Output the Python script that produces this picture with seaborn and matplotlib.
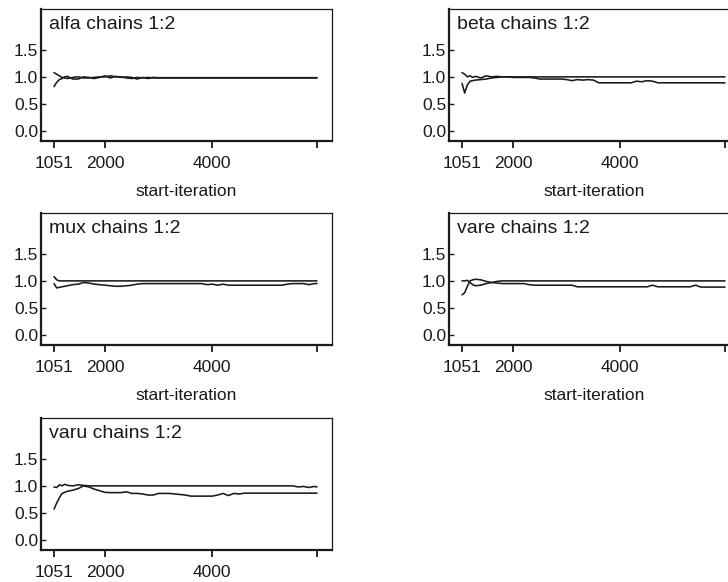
import matplotlib
matplotlib.use("Agg")
import matplotlib.pyplot as plt
import seaborn as sns
import pandas as pd

# start iterations at which the diagnostic was evaluated
iterations = [1051, 1100, 1150, 1200, 1250, 1300, 1400, 1500, 1600, 1700,
              1800, 1900, 2000, 2100, 2200, 2300, 2400, 2500, 2600, 2700,
              2800, 2900, 3000, 3100, 3200, 3300, 3400, 3500, 3600, 3700,
              3800, 3900, 4000, 4100, 4200, 4300, 4400, 4500, 4600, 4700,
              4800, 4900, 5000, 5100, 5200, 5300, 5400, 5500, 5600, 5700,
              5800, 5900, 5950]

alfa_upper = [1.08, 1.05, 1.02, 0.99, 0.98, 0.97, 0.99, 1.00, 0.98, 0.98,
              0.99, 1.00, 1.00, 1.02, 1.00, 1.00, 0.98, 0.97, 0.99, 0.98,
              0.99, 0.98, 0.98, 0.98, 0.98, 0.98, 0.98, 0.98, 0.98, 0.98,
              0.98, 0.98, 0.98, 0.98, 0.98, 0.98, 0.98, 0.98, 0.98, 0.98,
              0.98, 0.98, 0.98, 0.98, 0.98, 0.98, 0.98, 0.98, 0.98, 0.98,
              0.98, 0.98, 0.98]
alfa_lower = [0.82, 0.90, 0.95, 0.97, 1.00, 1.01, 0.96, 0.96, 1.00, 0.99,
              0.97, 0.99, 1.02, 0.98, 1.01, 0.99, 1.00, 0.99, 0.96, 0.99,
              0.97, 0.99, 0.985, 0.985, 0.985, 0.985, 0.985, 0.985, 0.985, 0.985,
              0.985, 0.985, 0.985, 0.985, 0.985, 0.985, 0.985, 0.985, 0.985, 0.985,
              0.985, 0.985, 0.985, 0.985, 0.985, 0.985, 0.985, 0.985, 0.985, 0.985,
              0.985, 0.985, 0.985]

beta_upper = [1.08, 1.05, 1.00, 1.02, 0.99, 1.01, 0.98, 1.02, 1.00, 1.01,
              1.00, 1.00, 1.00, 1.00, 1.00, 1.00, 1.00, 1.00, 1.00, 1.00,
              1.00, 1.00, 1.00, 1.00, 1.00, 1.00, 1.00, 1.00, 1.00, 1.00,
              1.00, 1.00, 1.00, 1.00, 1.00, 1.00, 1.00, 1.00, 1.00, 1.00,
              1.00, 1.00, 1.00, 1.00, 1.00, 1.00, 1.00, 1.00, 1.00, 1.00,
              1.00, 1.00, 1.00]
beta_lower = [0.88, 0.70, 0.85, 0.92, 0.93, 0.94, 0.95, 0.96, 0.98, 0.99,
              1.00, 1.00, 0.99, 0.99, 0.99, 0.99, 0.98, 0.96, 0.96, 0.96,
              0.96, 0.96, 0.95, 0.93, 0.95, 0.94, 0.95, 0.94, 0.89, 0.89,
              0.89, 0.89, 0.89, 0.89, 0.89, 0.92, 0.91, 0.93, 0.92, 0.89,
              0.89, 0.89, 0.89, 0.89, 0.89, 0.89, 0.89, 0.89, 0.89, 0.89,
              0.89, 0.89, 0.89]

mux_upper = [1.08, 1.02, 1.00, 1.00, 1.00, 1.00, 1.00, 1.00, 1.00, 1.00,
             1.00, 1.00, 1.00, 1.00, 1.00, 1.00, 1.00, 1.00, 1.00, 1.00,
             1.00, 1.00, 1.00, 1.00, 1.00, 1.00, 1.00, 1.00, 1.00, 1.00,
             1.00, 1.00, 1.00, 1.00, 1.00, 1.00, 1.00, 1.00, 1.00, 1.00,
             1.00, 1.00, 1.00, 1.00, 1.00, 1.00, 1.00, 1.00, 1.00, 1.00,
             1.00, 1.00, 1.00]
mux_lower = [0.95, 0.87, 0.88, 0.89, 0.90, 0.91, 0.93, 0.94, 0.97, 0.96,
             0.94, 0.93, 0.92, 0.91, 0.90, 0.90, 0.91, 0.92, 0.94, 0.95,
             0.95, 0.95, 0.95, 0.95, 0.95, 0.95, 0.95, 0.95, 0.95, 0.95,
             0.95, 0.93, 0.94, 0.92, 0.94, 0.92, 0.92, 0.92, 0.92, 0.92,
             0.92, 0.92, 0.92, 0.92, 0.92, 0.92, 0.94, 0.95, 0.95, 0.95,
             0.93, 0.95, 0.95]

vare_upper = [1.00, 1.00, 1.01, 0.97, 0.93, 0.91, 0.92, 0.95, 0.97, 0.99,
              1.00, 1.00, 1.00, 1.00, 1.00, 1.00, 1.00, 1.00, 1.00, 1.00,
              1.00, 1.00, 1.00, 1.00, 1.00, 1.00, 1.00, 1.00, 1.00, 1.00,
              1.00, 1.00, 1.00, 1.00, 1.00, 1.00, 1.00, 1.00, 1.00, 1.00,
              1.00, 1.00, 1.00, 1.00, 1.00, 1.00, 1.00, 1.00, 1.00, 1.00,
              1.00, 1.00, 1.00]
vare_lower = [0.74, 0.78, 0.90, 1.00, 1.02, 1.03, 1.02, 0.99, 0.97, 0.96,
              0.95, 0.95, 0.95, 0.95, 0.95, 0.93, 0.92, 0.92, 0.92, 0.92,
              0.92, 0.92, 0.92, 0.92, 0.89, 0.89, 0.89, 0.89, 0.89, 0.89,
              0.89, 0.89, 0.89, 0.89, 0.89, 0.89, 0.89, 0.89, 0.92, 0.89,
              0.89, 0.89, 0.89, 0.89, 0.89, 0.89, 0.92, 0.885, 0.885, 0.885,
              0.885, 0.885, 0.885]

varu_upper = [0.98, 0.97, 1.02, 1.00, 1.03, 1.01, 1.00, 1.02, 1.01, 1.00,
              1.00, 1.00, 1.00, 1.00, 1.00, 1.00, 1.00, 1.00, 1.00, 1.00,
              1.00, 1.00, 1.00, 1.00, 1.00, 1.00, 1.00, 1.00, 1.00, 1.00,
              1.00, 1.00, 1.00, 1.00, 1.00, 1.00, 1.00, 1.00, 1.00, 1.00,
              1.00, 1.00, 1.00, 1.00, 1.00, 1.00, 1.00, 1.00, 0.98, 0.99,
              0.97, 0.99, 0.98]
varu_lower = [0.57, 0.68, 0.78, 0.86, 0.88, 0.90, 0.92, 0.95, 1.00, 0.98,
              0.94, 0.91, 0.88, 0.875, 0.875, 0.875, 0.89, 0.86, 0.86, 0.85,
              0.83, 0.83, 0.86, 0.86, 0.86, 0.85, 0.84, 0.83, 0.81, 0.81,
              0.81, 0.81, 0.81, 0.83, 0.86, 0.82, 0.86, 0.85, 0.865, 0.865,
              0.865, 0.865, 0.865, 0.865, 0.865, 0.865, 0.865, 0.865, 0.865, 0.865,
              0.865, 0.865, 0.865]

x_ticks = [1051, 2000, 4000, 5950]
x_tick_labels = ["1051", "2000", "4000", ""]
y_ticks = [0.0, 0.5, 1.0, 1.5]
y_tick_labels = ["0.0", "0.5", "1.0", "1.5"]

panels = [
    ("alfa", alfa_upper, alfa_lower),
    ("beta", beta_upper, beta_lower),
    ("mux", mux_upper, mux_lower),
    ("vare", vare_upper, vare_lower),
    ("varu", varu_upper, varu_lower),
]

sns.set_theme(style="white")
plt.rcParams["font.family"] = ["Liberation Sans", "DejaVu Sans"]

W, H = 728, 582
fig = plt.figure(figsize=(W / 100, H / 100), dpi=100)
fig.patch.set_facecolor("white")

# axes boxes in pixels: (left, top, width, height)
col_left = [41, 449]
row_top = [9, 213, 418]
box_w, box_h = 291, 132

ink = "#1a1a1a"

for i, (name, upper, lower) in enumerate(panels):
    r, c = divmod(i, 2)
    left, top = col_left[c], row_top[r]
    ax = fig.add_axes([left / W, (H - top - box_h) / H, box_w / W, box_h / H])

    df = pd.DataFrame({
        "start-iteration": iterations * 2,
        "value": upper + lower,
        "line": ["upper"] * len(iterations) + ["lower"] * len(iterations),
    })
    sns.lineplot(data=df, x="start-iteration", y="value", units="line",
                 estimator=None, color=ink, linewidth=1.15, ax=ax, legend=False)

    ax.set_xlim(808, 6230)
    ax.set_ylim(-0.19, 2.26)
    ax.set_xticks(x_ticks)
    ax.set_xticklabels(x_tick_labels)
    ax.set_yticks(y_ticks)
    ax.set_yticklabels(y_tick_labels)
    ax.tick_params(axis="x", direction="out", length=5, width=1.3,
                   pad=6, labelsize=12.5, colors=ink, bottom=True)
    ax.tick_params(axis="y", direction="in", length=3.5, width=1.0,
                   pad=2, labelsize=12.5, colors=ink, left=True)
    ax.set_ylabel("")
    if r < 2:
        ax.set_xlabel("start-iteration", fontsize=12.5, color=ink, labelpad=9)
    else:
        ax.set_xlabel("")

    for side, lw in (("left", 1.6), ("bottom", 1.6), ("top", 0.9), ("right", 0.9)):
        ax.spines[side].set_visible(True)
        ax.spines[side].set_linewidth(lw)
        ax.spines[side].set_color(ink)

    ax.text(0.027, 0.95, f"{name} chains 1:2", transform=ax.transAxes,
            ha="left", va="top", fontsize=14, color=ink)

fig.savefig("out.png", dpi=100, facecolor="white")
